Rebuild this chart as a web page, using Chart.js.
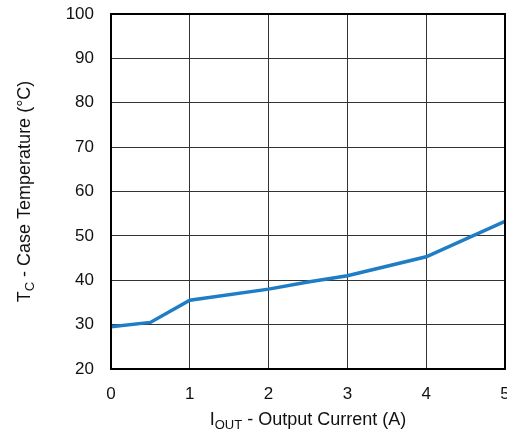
<!DOCTYPE html>
<html>
<head>
<meta charset="utf-8">
<script src="https://cdn.jsdelivr.net/npm/chart.js@4/dist/chart.umd.min.js"></script>
<style>
  html, body { margin: 0; padding: 0; background: #fff; overflow: hidden; }
  #wrap { width: 507px; height: 433px; position: relative; }
</style>
</head>
<body>
<div id="wrap"><canvas id="tempChart"></canvas></div>
<script>
const currentA = [0, 0.5, 1, 2, 2.5, 3, 4, 5];
const caseTempC = [29.5, 30.5, 35.5, 38, 39.6, 41, 45.3, 53.3];
const xTicks = [0, 1, 2, 3, 4, 5];
const yTicks = [20, 30, 40, 50, 60, 70, 80, 90, 100];

const FONT = "'Liberation Sans', Arial, sans-serif";

// text with a subscript part, drawn left to right from x
function drawSubText(ctx, parts, x, y) {
  parts.forEach((p) => {
    ctx.font = (p.sub ? "13px " : "18px ") + FONT;
    ctx.fillText(p.text, x, y + (p.sub ? 5 : 0));
    x += ctx.measureText(p.text).width;
  });
}

function partsWidth(ctx, parts) {
  let w = 0;
  parts.forEach((p) => {
    ctx.font = (p.sub ? "13px " : "18px ") + FONT;
    w += ctx.measureText(p.text).width;
  });
  return w;
}

const frameAndTitles = {
  id: "frameAndTitles",
  afterDraw(chart) {
    const { ctx, chartArea: a } = chart;
    ctx.save();
    ctx.strokeStyle = "#000";
    ctx.lineWidth = 2;
    ctx.strokeRect(a.left, a.top, a.right - a.left, a.bottom - a.top);

    ctx.fillStyle = "#111";
    ctx.textBaseline = "middle";
    ctx.textAlign = "left";

    const xTitle = [{ text: "I" }, { text: "OUT", sub: true }, { text: " - Output Current (A)" }];
    const xw = partsWidth(ctx, xTitle);
    drawSubText(ctx, xTitle, (a.left + a.right) / 2 - xw / 2, 420);

    const yTitle = [{ text: "T" }, { text: "C", sub: true }, { text: " - Case Temperature (°C)" }];
    const yw = partsWidth(ctx, yTitle);
    ctx.translate(25, (a.top + a.bottom) / 2);
    ctx.rotate(-Math.PI / 2);
    drawSubText(ctx, yTitle, -yw / 2, 0);
    ctx.restore();
  }
};

new Chart(document.getElementById("tempChart"), {
  type: "line",
  data: {
    labels: currentA,
    datasets: [{
      data: currentA.map((x, i) => ({ x, y: caseTempC[i] })),
      borderColor: "#1e7dc4",
      borderWidth: 3.5,
      pointRadius: 0,
      tension: 0,
      fill: false
    }]
  },
  options: {
    responsive: true,
    maintainAspectRatio: false,
    animation: false,
    layout: { padding: { left: 40, right: 2, top: 14, bottom: 34 } },
    plugins: { legend: { display: false }, tooltip: { enabled: false } },
    scales: {
      x: {
        type: "linear",
        min: 0,
        max: 5,
        afterBuildTicks: (s) => { s.ticks = xTicks.map((v) => ({ value: v })); },
        afterFit: (s) => { s.height = 30; s.paddingLeft = 0; s.paddingRight = 0; },
        grid: { color: "#333", lineWidth: 1, drawTicks: false },
        border: { display: false },
        ticks: { color: "#111", font: { family: FONT, size: 17 }, padding: 15, maxRotation: 0 }
      },
      y: {
        min: 20,
        max: 100,
        afterBuildTicks: (s) => { s.ticks = yTicks.map((v) => ({ value: v })); },
        afterFit: (s) => { s.width = 71; s.paddingTop = 0; s.paddingBottom = 0; },
        grid: { color: "#333", lineWidth: 1, drawTicks: false },
        border: { display: false },
        ticks: { color: "#111", font: { family: FONT, size: 17 }, padding: 17 }
      }
    }
  },
  plugins: [frameAndTitles]
});
</script>
</body>
</html>
